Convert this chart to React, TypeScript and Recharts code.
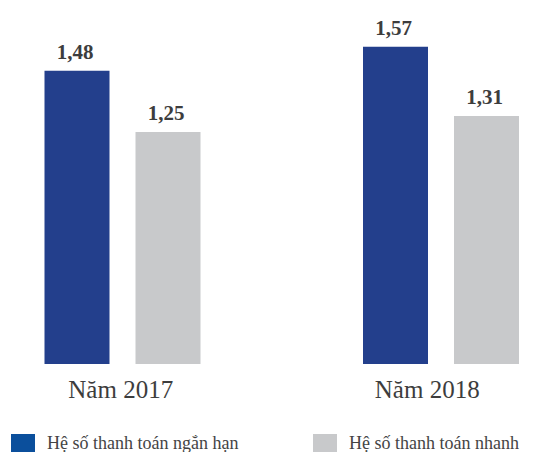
import { BarChart, Bar, XAxis, YAxis, LabelList, Legend } from "recharts"

const years = ["Năm 2017", "Năm 2018"]
const currentRatio = [1.48, 1.57]
const quickRatio = [1.25, 1.31]
const seriesNames = ["Hệ số thanh toán ngắn hạn", "Hệ số thanh toán nhanh"]

const BAR_BLUE = "#233f8c"
const LEGEND_BLUE = "#0b4f9c"
const GREY = "#c8c9cb"
const TEXT = "#3d3d3d"
const FONT = "Liberation Serif, DejaVu Serif, serif"

const data = years.map((year, i) => ({
  year,
  current: currentRatio[i],
  quick: quickRatio[i],
}))

const formatValue = (v: unknown) => Number(v).toFixed(2).replace(".", ",")

function YearTick({ x, y, payload, index }: any) {
  const shift = index === 0 ? -2 : -14
  return (
    <text
      x={x + shift}
      y={y}
      dy={26}
      textAnchor="middle"
      fontFamily={FONT}
      fontSize={25}
      fill={TEXT}
    >
      {payload.value}
    </text>
  )
}

function ValueLabel({ x, y, width, value }: any) {
  return (
    <text
      x={x + width / 2 - 2}
      y={y - 12}
      textAnchor="middle"
      fontFamily={FONT}
      fontSize={21}
      fontWeight={700}
      fill={TEXT}
    >
      {formatValue(value)}
    </text>
  )
}

function LegendContent() {
  const colors = [LEGEND_BLUE, GREY]
  const lefts = [11, 313]
  return (
    <div style={{ position: "relative", height: 22 }}>
      {seriesNames.map((name, i) => (
        <div
          key={name}
          style={{
            position: "absolute",
            left: lefts[i],
            top: 0,
            display: "flex",
            alignItems: "flex-start",
            whiteSpace: "nowrap",
          }}
        >
          <span
            style={{
              display: "inline-block",
              width: 24,
              height: 20,
              background: colors[i],
              marginRight: 12,
            }}
          />
          <span
            style={{
              fontFamily: FONT,
              fontSize: 18,
              color: "#444",
              lineHeight: "18px",
            }}
          >
            {name}
          </span>
        </div>
      ))}
    </div>
  )
}

export default function App() {
  return (
    <div
      style={{
        position: "absolute",
        left: 0,
        top: 0,
        width: 538,
        height: 452,
        overflow: "hidden",
        background: "#fff",
        fontFamily: FONT,
      }}
    >
      <BarChart
        width={538}
        height={452}
        data={data}
        margin={{ top: 20, right: 0, bottom: 16, left: 0 }}
        barSize={65}
        barGap={26}
      >
        <XAxis
          dataKey="year"
          axisLine={false}
          tickLine={false}
          height={50}
          padding={{ left: -36.5, right: -62.5 }}
          tick={<YearTick />}
          interval={0}
        />
        <YAxis hide type="number" domain={[0.38, 1.67]} />
        <Legend
          content={<LegendContent />}
          wrapperStyle={{ position: "absolute", top: 434, left: 0, width: 538 }}
        />
        <Bar dataKey="current" name={seriesNames[0]} fill={BAR_BLUE} isAnimationActive={false}>
          <LabelList dataKey="current" content={<ValueLabel />} />
        </Bar>
        <Bar dataKey="quick" name={seriesNames[1]} fill={GREY} isAnimationActive={false}>
          <LabelList dataKey="quick" content={<ValueLabel />} />
        </Bar>
      </BarChart>
    </div>
  )
}
